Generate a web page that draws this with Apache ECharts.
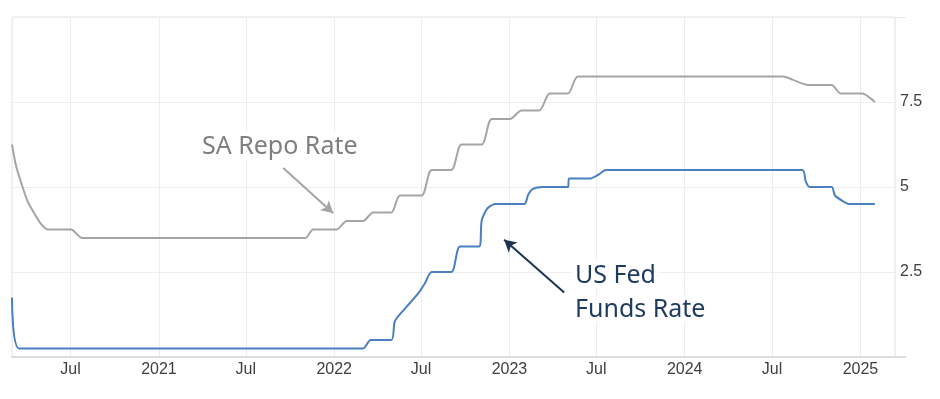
<!DOCTYPE html>
<html>
<head>
<meta charset="utf-8">
<script src="https://cdn.jsdelivr.net/npm/echarts@6/dist/echarts.min.js"></script>
<style>
html,body{margin:0;padding:0;background:#fff;}
#chart{width:940px;height:399px;}
</style>
</head>
<body>
<div id="chart"></div>
<script>
// SA Repo Rate (%)
const saRepoDates = ['2020-03-01','2020-03-09','2020-03-18','2020-04-01','2020-04-08','2020-04-29','2020-05-16','2020-07-02','2020-07-25','2021-11-02','2021-11-18','2022-01-06','2022-01-27','2022-03-02','2022-03-23','2022-04-30','2022-05-18','2022-07-02','2022-07-23','2022-09-02','2022-09-23','2022-11-04','2022-11-25','2023-01-02','2023-01-26','2023-03-04','2023-03-26','2023-05-03','2023-05-24','2024-07-24','2024-08-14','2024-09-14','2024-11-02','2024-11-21','2025-01-05','2025-01-21','2025-01-31'];
const saRepoRates = [6.25,5.65,5.22,4.63,4.43,3.94,3.75,3.75,3.5,3.5,3.75,3.75,4.0,4.0,4.25,4.25,4.75,4.75,5.5,5.5,6.25,6.25,7.0,7.0,7.25,7.25,7.75,7.75,8.25,8.25,8.15,8.0,8.0,7.75,7.75,7.62,7.5];

// US Fed Funds Rate (%)
const fedDates = ['2020-03-01','2020-03-16','2022-03-02','2022-03-18','2022-04-30','2022-05-07','2022-05-18','2022-06-01','2022-06-25','2022-07-09','2022-07-23','2022-09-02','2022-09-20','2022-10-30','2022-11-04','2022-11-14','2022-11-21','2022-12-02','2023-02-01','2023-02-09','2023-02-18','2023-03-12','2023-05-03','2023-05-05','2023-06-17','2023-07-05','2023-07-21','2024-09-02','2024-09-09','2024-09-17','2024-11-02','2024-11-09','2024-11-26','2024-12-10','2025-01-31'];
const fedRates = [1.75,0.25,0.25,0.5,0.5,1.04,1.26,1.48,1.87,2.17,2.5,2.5,3.25,3.25,4.0,4.33,4.43,4.5,4.5,4.77,4.94,5.0,5.0,5.25,5.25,5.36,5.5,5.5,5.17,5.0,5.0,4.75,4.58,4.5,4.5];

// Axis settings / tick labels
const xMin = '2020-03-01';
const xMax = '2025-03-14';
const yTicks = [0, 2.5, 5, 7.5, 10];
const yLabelsShown = ['2.5', '5', '7.5'];

// Annotation arrows (data coordinates)
const repoArrow = [['2021-09-17', 5.56], ['2021-12-30', 4.23]];
const fedArrow = [['2023-04-25', 1.90], ['2022-12-21', 3.45]];

const zip = (d, v) => d.map((x, i) => [x, v[i]]);

const chart = echarts.init(document.getElementById('chart'), null, {renderer: 'canvas'});
const monthNames = ['Jan','Feb','Mar','Apr','May','Jun','Jul','Aug','Sep','Oct','Nov','Dec'];

chart.setOption({
  animation: false,
  backgroundColor: '#ffffff',
  grid: {left: 12, right: 45, top: 17, bottom: 42, show: true, borderColor: '#e6e6e6', borderWidth: 1},
  xAxis: {
    type: 'time',
    min: xMin,
    max: xMax,
    minInterval: 182 * 86400000,
    maxInterval: 183 * 86400000,
    splitNumber: 10,
    axisLine: {show: true, lineStyle: {color: '#dedede', width: 2}},
    axisTick: {show: false},
    splitLine: {show: true, lineStyle: {color: '#ededed', width: 1}},
    axisLabel: {
      fontFamily: 'Liberation Sans',
      fontSize: 16,
      color: '#404040',
      margin: 5,
      formatter: function (val) {
        const d = new Date(val);
        if (d.getMonth() === 0) return String(d.getFullYear());
        return monthNames[d.getMonth()];
      }
    }
  },
  yAxis: {
    type: 'value',
    position: 'right',
    min: yTicks[0],
    max: yTicks[yTicks.length - 1],
    interval: 2.5,
    axisLine: {show: false},
    axisTick: {show: false},
    splitLine: {show: true, lineStyle: {color: '#ededed', width: 1}},
    axisLabel: {
      fontFamily: 'Liberation Sans',
      fontSize: 16,
      color: '#404040',
      margin: 5,
      formatter: function (v) {
        const s = String(v);
        return yLabelsShown.indexOf(s) >= 0 ? s : '';
      }
    }
  },
  series: [
    {
      name: 'SA Repo Rate',
      type: 'line',
      data: zip(saRepoDates, saRepoRates),
      showSymbol: false,
      smooth: 0.25,
      lineStyle: {color: '#a5a5a5', width: 2},
      markLine: {
        silent: true,
        symbol: ['none', 'arrow'],
        symbolSize: [10, 12],
        label: {show: false},
        lineStyle: {color: '#a5a5a5', width: 2, type: 'solid'},
        data: [[{coord: repoArrow[0]}, {coord: repoArrow[1]}]]
      }
    },
    {
      name: 'US Fed Funds Rate',
      type: 'line',
      data: zip(fedDates, fedRates),
      showSymbol: false,
      smooth: 0.25,
      lineStyle: {color: '#4a7fc1', width: 2},
      markLine: {
        silent: true,
        symbol: ['none', 'arrow'],
        symbolSize: [10, 12],
        label: {show: false},
        lineStyle: {color: '#1e3350', width: 2, type: 'solid'},
        data: [[{coord: fedArrow[0]}, {coord: fedArrow[1]}]]
      }
    }
  ],
  graphic: [
    {type: 'line', z: 1, shape: {x1: 895, y1: 17.5, x2: 906, y2: 17.5}, style: {stroke: '#e6e6e6', lineWidth: 1}},
    {type: 'line', z: 1, shape: {x1: 895, y1: 357, x2: 906, y2: 357}, style: {stroke: '#dedede', lineWidth: 2}},
    {type: 'text', left: 199, top: 132, z: 10, style: {text: 'SA Repo Rate', fontFamily: 'Noto Sans', fontSize: 25, fill: '#7f7f7f', backgroundColor: '#ffffff', padding: [2, 3, 0, 3]}},
    {type: 'text', left: 572, top: 261, z: 10, style: {text: 'US Fed', fontFamily: 'Noto Sans', fontSize: 25, fill: '#1f3a5f', backgroundColor: '#ffffff', padding: [2, 3, 0, 3]}},
    {type: 'text', left: 572, top: 295, z: 10, style: {text: 'Funds Rate', fontFamily: 'Noto Sans', fontSize: 25, fill: '#1f3a5f', backgroundColor: '#ffffff', padding: [2, 3, 0, 3]}}
  ]
});
</script>
</body>
</html>
